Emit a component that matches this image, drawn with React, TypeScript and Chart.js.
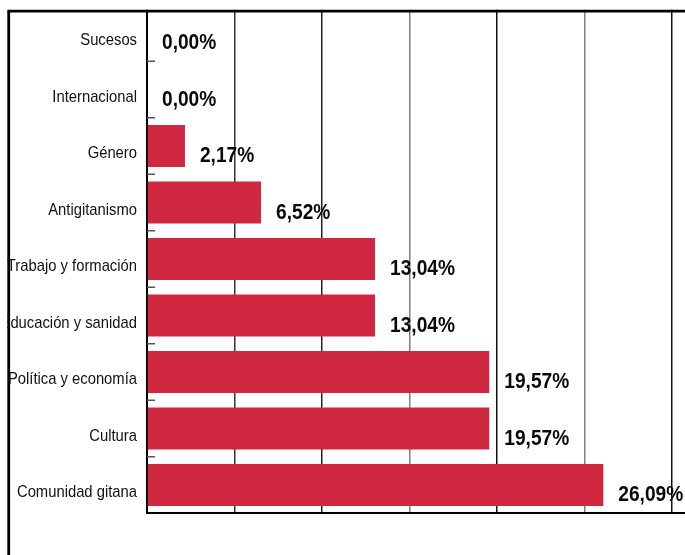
import React, { useEffect, useRef } from "react";
import { Chart, registerables } from "chart.js";

Chart.register(...registerables);

const categories = [
  "Sucesos",
  "Internacional",
  "Género",
  "Antigitanismo",
  "Trabajo y formación",
  "Educación y sanidad",
  "Política y economía",
  "Cultura",
  "Comunidad gitana",
];
const values = [0, 0, 2.17, 6.52, 13.04, 13.04, 19.57, 19.57, 26.09];
const gridColors = ["#222", "#333", "#222", "#808080", "#111", "#808080", "#111"];

const BAR_COLOR = "#CF2840";
const CAT_FONT = '17px "Liberation Sans", Arial, sans-serif';
const VAL_FONT = 'bold 22px "Liberation Sans", Arial, sans-serif';

const fmt = (v: number) => v.toFixed(2).replace(".", ",") + "%";

function narrowText(ctx: any, text: string, x: number, y: number, sx: number) {
  ctx.save();
  ctx.translate(x, y);
  ctx.scale(sx, 1);
  ctx.fillText(text, 0, 0);
  ctx.restore();
}

const overlay = {
  id: "overlay",
  afterDatasetsDraw(chart: any) {
    const ctx = chart.ctx;
    const y = chart.scales.y;
    const x = chart.scales.x;
    const n = categories.length;
    ctx.save();
    ctx.strokeStyle = "#555";
    ctx.lineWidth = 1.5;
    for (let i = 0; i < n - 1; i++) {
      const yy = (y.getPixelForValue(i) + y.getPixelForValue(i + 1)) / 2;
      ctx.beginPath();
      ctx.moveTo(x.left, yy);
      ctx.lineTo(x.left + 8, yy);
      ctx.stroke();
    }
    ctx.fillStyle = "#111";
    ctx.font = CAT_FONT;
    ctx.textAlign = "right";
    ctx.textBaseline = "alphabetic";
    categories.forEach((c, i) => {
      narrowText(ctx, c, x.left - 10, y.getPixelForValue(i) + 12, 0.87);
    });
    ctx.fillStyle = "#0a0a0a";
    ctx.font = VAL_FONT;
    ctx.textAlign = "left";
    values.forEach((v, i) => {
      narrowText(ctx, fmt(v), x.getPixelForValue(v) + 15, y.getPixelForValue(i) + 16, 0.87);
    });
    ctx.restore();
  },
  afterDraw(chart: any) {
    const ctx = chart.ctx;
    const w = chart.width;
    const h = chart.height;
    ctx.save();
    ctx.fillStyle = "#fff";
    ctx.fillRect(0, 0, w, 9.7);
    ctx.fillRect(0, 0, 7.3, h);
    ctx.strokeStyle = "#000";
    ctx.lineWidth = 2.8;
    ctx.beginPath();
    ctx.moveTo(8.7, 9.7);
    ctx.lineTo(8.7, h);
    ctx.moveTo(7.3, 11.1);
    ctx.lineTo(w, 11.1);
    ctx.stroke();
    ctx.restore();
  },
};

export default function App() {
  const ref = useRef<HTMLCanvasElement>(null);
  useEffect(() => {
    if (!ref.current) return;
    const chart = new Chart(ref.current, {
      type: "bar",
      data: {
        labels: categories,
        datasets: [
          {
            data: values,
            backgroundColor: BAR_COLOR,
            borderWidth: 0,
            categoryPercentage: 1,
            barPercentage: 0.745,
          },
        ],
      },
      options: {
        indexAxis: "y",
        animation: false,
        responsive: true,
        maintainAspectRatio: false,
        layout: { padding: { top: 4.75, bottom: 41.75, left: 0, right: 0 } },
        plugins: { legend: { display: false }, tooltip: { enabled: false } },
        scales: {
          x: {
            min: 0,
            max: 30.76,
            ticks: { display: false, stepSize: 5, includeBounds: false },
            grid: {
              drawTicks: false,
              lineWidth: 1.5,
              color: (c: any) => gridColors[c.index] || "#222",
            },
            border: { display: true, color: "#000", width: 2 },
            afterFit: (s: any) => {
              s.height = 0;
            },
          },
          y: {
            ticks: { display: false },
            grid: { display: false, drawTicks: false },
            border: { display: true, color: "#000", width: 2 },
            afterFit: (s: any) => {
              s.width = 147;
            },
          },
        },
      },
      plugins: [overlay],
    });
    return () => chart.destroy();
  }, []);
  return (
    <div style={{ position: "absolute", left: 0, top: 0, width: 685, height: 555, background: "#fff" }}>
      <canvas ref={ref} />
    </div>
  );
}
